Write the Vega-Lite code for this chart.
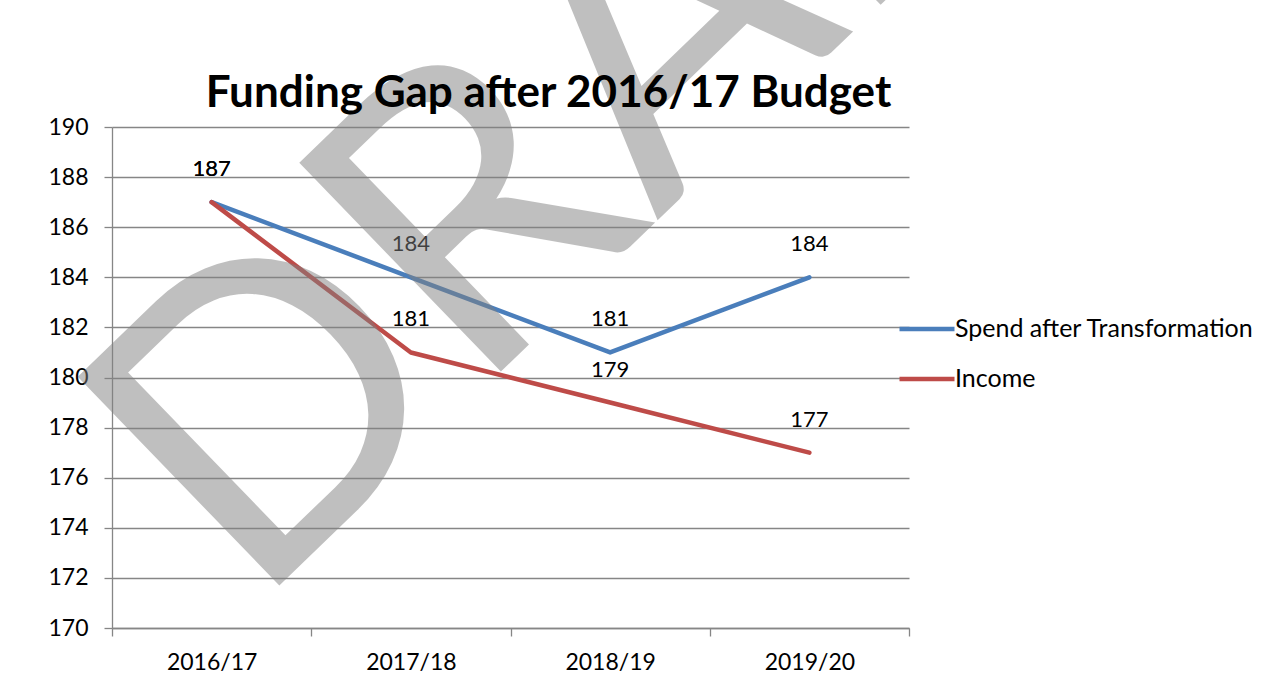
{
  "$schema": "https://vega.github.io/schema/vega-lite/v6.json",
  "autosize": {"type": "none"},
  "padding": {"left": 112, "top": 127, "right": 375, "bottom": 63},
  "width": 797,
  "height": 501,
  "background": "white",
  "title": {
    "text": "Funding Gap after 2016/17 Budget",
    "font": "Lato",
    "fontSize": 44,
    "fontWeight": "bold",
    "color": "black",
    "anchor": "middle",
    "frame": "group",
    "dx": 38,
    "offset": -679,
    "baseline": "alphabetic"
  },
  "config": {
    "view": {"stroke": null},
    "font": "Lato",
    "axis": {
      "labelFont": "Lato",
      "labelFontSize": 23,
      "labelColor": "black",
      "domainColor": "#868686",
      "domainWidth": 1.3,
      "tickColor": "#868686",
      "tickWidth": 1.3,
      "tickSize": 8,
      "gridColor": "#868686",
      "gridWidth": 1.3,
      "title": null
    },
    "legend": {
      "orient": "none",
      "legendX": 785,
      "legendY": 172,
      "padding": 0,
      "symbolType": "stroke",
      "symbolSize": 3025,
      "symbolStrokeWidth": 4.5,
      "labelFont": "Lato",
      "labelFontSize": 25,
      "labelColor": "black",
      "labelOffset": -2,
      "labelLimit": 0,
      "rowPadding": 7,
      "title": null
    }
  },
  "data": {
    "values": [
      {"year": "2016/17", "series": "Spend after Transformation", "value": 187},
      {"year": "2017/18", "series": "Spend after Transformation", "value": 184},
      {"year": "2018/19", "series": "Spend after Transformation", "value": 181},
      {"year": "2019/20", "series": "Spend after Transformation", "value": 184},
      {"year": "2016/17", "series": "Income", "value": 187},
      {"year": "2017/18", "series": "Income", "value": 181},
      {"year": "2018/19", "series": "Income", "value": 179},
      {"year": "2019/20", "series": "Income", "value": 177}
    ]
  },
  "encoding": {
    "x": {
      "field": "year",
      "type": "ordinal",
      "bandPosition": 0.5,
      "scale": {"type": "band", "paddingInner": 0, "paddingOuter": 0},
      "axis": {"labelAngle": 0, "tickBand": "extent", "labelPadding": 15, "grid": false}
    },
    "y": {
      "field": "value",
      "type": "quantitative",
      "scale": {"domain": [170, 190], "nice": false, "zero": false},
      "axis": {"values": [170, 172, 174, 176, 178, 180, 182, 184, 186, 188, 190], "labelPadding": 16, "grid": true}
    }
  },
  "layer": [
    {
      "mark": {"type": "line", "strokeWidth": 4.5, "strokeCap": "round", "strokeJoin": "round"},
      "encoding": {
        "color": {
          "field": "series",
          "type": "nominal",
          "sort": ["Spend after Transformation", "Income"],
          "scale": {"domain": ["Spend after Transformation", "Income"], "range": ["#4A7EBB", "#BE4B48"]}
        }
      }
    },
    {
      "mark": {"type": "text", "dy": -33, "fontSize": 22, "font": "Lato", "color": "black", "baseline": "middle"},
      "encoding": {"text": {"field": "value", "type": "quantitative"}}
    },
    {
      "data": {"values": [{"label": "DRAFT", "year": "2019/20", "value": 188.75}]},
      "mark": {"type": "text", "font": "Lato", "fontSize": 405, "angle": 316, "align": "center", "baseline": "alphabetic", "fill": "#808080", "fillOpacity": 0.5},
      "encoding": {
        "x": {"field": "year", "type": "ordinal", "bandPosition": 0.06},
        "y": {"field": "value", "type": "quantitative"},
        "text": {"field": "label", "type": "nominal"}
      }
    }
  ]
}
